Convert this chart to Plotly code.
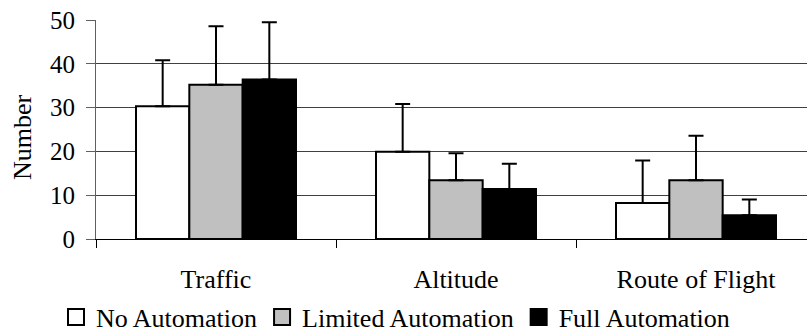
import plotly.graph_objects as go

categories = ["Traffic", "Altitude", "Route of Flight"]
series_names = ["No Automation", "Limited Automation", "Full Automation"]
no_auto = [30.3, 19.9, 8.2]
no_auto_err = [10.5, 10.9, 9.7]
limited_auto = [35.2, 13.4, 13.4]
limited_auto_err = [13.4, 6.2, 10.2]
full_auto = [36.4, 11.4, 5.4]
full_auto_err = [13.1, 5.8, 3.6]
y_ticks = [0, 10, 20, 30, 40, 50]

colors = ["#FFFFFF", "#C0C0C0", "#000000"]
FONT = "Liberation Serif, Times New Roman, serif"

fig = go.Figure()
for name, vals, errs, col in zip(series_names,
                                 [no_auto, limited_auto, full_auto],
                                 [no_auto_err, limited_auto_err, full_auto_err],
                                 colors):
    fig.add_trace(go.Bar(
        x=categories, y=vals, name=name, showlegend=False,
        marker=dict(color=col, line=dict(color="black", width=2)),
        error_y=dict(type="data", array=errs, arrayminus=[0] * len(errs),
                     symmetric=False, color="black", thickness=2, width=7.5),
    ))
# legend entries (square swatches)
for name, col in zip(series_names, colors):
    fig.add_trace(go.Scatter(
        x=[None], y=[None], name=name, mode="markers",
        marker=dict(symbol="square", size=16, color=col,
                    line=dict(color="black", width=2)),
    ))

fig.update_layout(
    width=807, height=333,
    margin=dict(l=96, r=0, t=20, b=94),
    paper_bgcolor="white", plot_bgcolor="white",
    barmode="group", bargap=1/3, bargroupgap=0,
    font=dict(family=FONT, size=26, color="black"),
    showlegend=True,
    legend=dict(orientation="h", xref="container", yref="container",
                x=56 / 807, xanchor="left", y=(333 - 317) / 333, yanchor="middle",
                font=dict(size=26), itemclick=False, tracegroupgap=0,
                bgcolor="rgba(0,0,0,0)", borderwidth=0),
    annotations=[dict(text="Number", textangle=-90, xref="paper", yref="paper",
                      x=-(96 - 22) / 711, y=(333 - 94 - 137) / 219,
                      xanchor="center", yanchor="middle", showarrow=False,
                      font=dict(size=26))],
)
fig.update_xaxes(
    type="category", range=[-0.5, 2.4625],
    showline=True, linecolor="black", linewidth=1,
    ticks="outside", ticklen=8, tickcolor="black", tickson="boundaries",
    ticklabelstandoff=17, showgrid=False,
)
fig.update_yaxes(
    range=[0, 50], tickvals=y_ticks,
    showline=True, linecolor="#606060", linewidth=1,
    ticks="outside", ticklen=9, tickcolor="#606060",
    ticklabelstandoff=6, tickfont=dict(size=25),
    showgrid=True, gridcolor="#404040", gridwidth=1, zeroline=False,
)

fig.write_html("out.html", config={"displayModeBar": False},
               post_script="document.body.style.margin='0';")
